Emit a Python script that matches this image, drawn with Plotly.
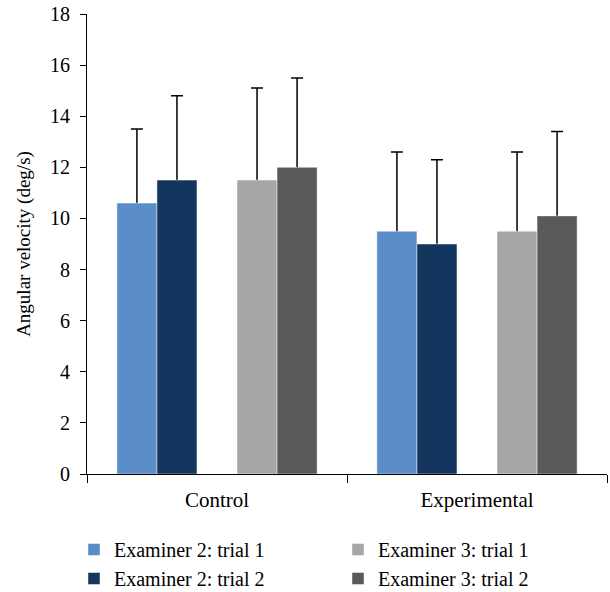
import plotly.graph_objects as go

groups = ["Control", "Experimental"]
series_names = ["Examiner 2: trial 1", "Examiner 2: trial 2", "Examiner 3: trial 1", "Examiner 3: trial 2"]
e2t1 = [10.6, 9.5]
e2t2 = [11.5, 9.0]
e3t1 = [11.5, 9.5]
e3t2 = [12.0, 10.1]
e2t1_err = [2.9, 3.1]
e2t2_err = [3.3, 3.3]
e3t1_err = [3.6, 3.1]
e3t2_err = [3.5, 3.3]
colors = ["#5A8DC8", "#14365E", "#A6A6A6", "#595959"]
slots = ["a", "b", "c", "d"]
legend_ids = ["legend", "legend", "legend2", "legend2"]

FONT = "Liberation Serif"

fig = go.Figure()
vals = [e2t1, e2t2, e3t1, e3t2]
errs = [e2t1_err, e2t2_err, e3t1_err, e3t2_err]

# error-bar carriers first (drawn beneath the coloured bars, so the lower cap is hidden)
order = [0, 1, None, 2, 3]
for i in order:
    if i is None:
        fig.add_trace(go.Bar(x=groups, y=[None, None], offsetgroup="gap",
                             showlegend=False, hoverinfo="skip"))
        continue
    fig.add_trace(go.Bar(
        x=groups, y=vals[i], offsetgroup=slots[i], showlegend=False, hoverinfo="skip",
        marker=dict(color="rgba(0,0,0,0)", line=dict(width=0)),
        error_y=dict(type="data", symmetric=False, array=errs[i],
                     arrayminus=[0.12] * len(errs[i]),
                     color="black", thickness=1.5, width=6),
    ))

for i in range(4):
    fig.add_trace(go.Bar(
        x=groups, y=vals[i], name=series_names[i], offsetgroup=slots[i],
        marker=dict(color=colors[i], line=dict(color="rgba(255,255,255,0.45)", width=1)),
        legend=legend_ids[i],
    ))

leg_common = dict(orientation="h", xref="container", yref="container",
                  xanchor="left", yanchor="top", y=1 - 530 / 592,
                  entrywidth=225, entrywidthmode="pixels",
                  font=dict(family=FONT, size=20), itemwidth=30, tracegroupgap=0,
                  bgcolor="rgba(0,0,0,0)")

fig.update_layout(
    width=610, height=592,
    margin=dict(l=87, r=3, t=14, b=118),
    plot_bgcolor="white", paper_bgcolor="white",
    barmode="group", bargap=0.23, bargroupgap=0,
    font=dict(family=FONT, size=21, color="black"),
    showlegend=True,
    legend=dict(x=74 / 610, **leg_common),
    legend2=dict(x=338 / 610, **leg_common),
    xaxis=dict(showline=True, linecolor="black", linewidth=1.2, ticks="outside",
               tickson="boundaries", ticklen=8, tickcolor="black", automargin=False,
               ticklabelstandoff=7, tickangle=0,
               tickfont=dict(family=FONT, size=21)),
    yaxis=dict(range=[0, 18], dtick=2, showline=True, linecolor="black", linewidth=1.2,
               ticks="outside", ticklen=6, tickcolor="black", showgrid=False, zeroline=False,
               automargin=False, ticklabelstandoff=6,
               title=dict(text="Angular velocity (deg/s)", font=dict(family=FONT, size=19), standoff=14),
               tickfont=dict(family=FONT, size=20)),
)

fig.write_html("out.html", config={"displayModeBar": False},
               post_script="document.body.style.margin='0';")
